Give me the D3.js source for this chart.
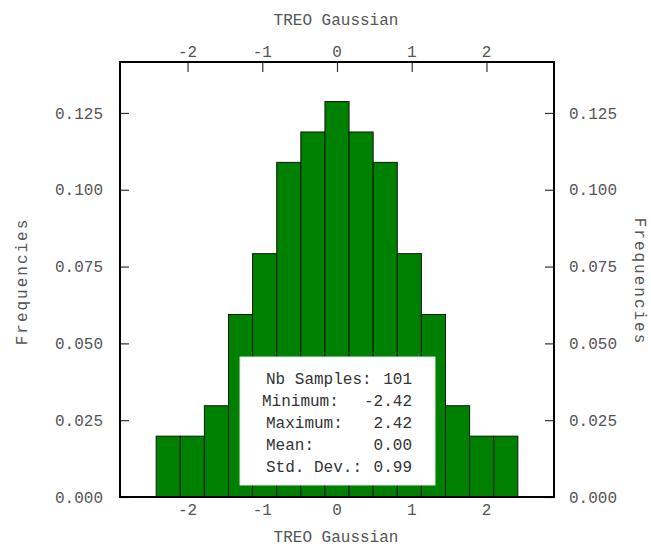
<!DOCTYPE html>
<html>
<head>
<meta charset="utf-8">
<script src="https://cdn.jsdelivr.net/npm/d3@7"></script>
<style>
  html, body { margin: 0; padding: 0; background: #fff; }
  svg { display: block; }
  text { font-family: "Liberation Mono", "DejaVu Sans Mono", monospace; }
</style>
</head>
<body>
<svg id="chart" width="651" height="548"></svg>
<script>
// Histogram of the TREO Gaussian variable
const variableName = "TREO Gaussian";
const yAxisName = "Frequencies";
const binMin = -2.42;
const binMax = 2.42;
const binCounts = [2, 2, 3, 6, 8, 11, 12, 13, 12, 11, 8, 6, 3, 2, 2];
const xTicks = [-2, -1, 0, 1, 2];
const yTicks = [0, 0.025, 0.05, 0.075, 0.1, 0.125];
const statLabels = ["Nb Samples:", "Minimum:", "Maximum:", "Mean:", "Std. Dev.:"];
const statValues = ["101", "-2.42", "2.42", "0.00", "0.99"];

const nSamples = d3.sum(binCounts);
const binWidth = (binMax - binMin) / binCounts.length;
const bins = binCounts.map((c, i) => ({
  x0: binMin + i * binWidth,
  x1: binMin + (i + 1) * binWidth,
  freq: c / nSamples
}));

const svg = d3.select("#chart");
const plot = { left: 120, right: 554, top: 62, bottom: 497 };

// 10% padding around the data range on x, 10% headroom on y
const pad = (binMax - binMin) * 0.1;
const x = d3.scaleLinear().domain([binMin - pad, binMax + pad]).range([plot.left, plot.right]);
const yMax = d3.max(bins, d => d.freq) * 1.1;
const y = d3.scaleLinear().domain([0, yMax]).range([plot.bottom, plot.top]);

const tickColor = "#555";
const fontSize = 16;

// inward ticks on all four sides
const axTop = d3.axisBottom(x).tickValues(xTicks).tickSize(10).tickFormat("");
const axBottom = d3.axisTop(x).tickValues(xTicks).tickSize(10).tickFormat("");
const axLeft = d3.axisRight(y).tickValues(yTicks).tickSize(9).tickFormat("");
const axRight = d3.axisLeft(y).tickValues(yTicks).tickSize(9).tickFormat("");

function styleAxis(g) {
  g.select(".domain").remove();
  g.selectAll(".tick line").attr("stroke", "#333").attr("stroke-width", 1.2);
}
svg.append("g").attr("transform", `translate(0,${plot.top})`).call(axTop).call(styleAxis);
svg.append("g").attr("transform", `translate(0,${plot.bottom})`).call(axBottom).call(styleAxis);
svg.append("g").attr("transform", `translate(${plot.left},0)`).call(axLeft).call(styleAxis);
svg.append("g").attr("transform", `translate(${plot.right},0)`).call(axRight).call(styleAxis);

// bars
svg.append("g").selectAll("rect").data(bins).join("rect")
  .attr("x", d => x(d.x0))
  .attr("y", d => y(d.freq))
  .attr("width", d => x(d.x1) - x(d.x0))
  .attr("height", d => y(0) - y(d.freq))
  .attr("fill", "#008000")
  .attr("stroke", "#0a1a0a")
  .attr("stroke-width", 1);

// frame
svg.append("rect")
  .attr("x", plot.left).attr("y", plot.top)
  .attr("width", plot.right - plot.left).attr("height", plot.bottom - plot.top)
  .attr("fill", "none").attr("stroke", "#000").attr("stroke-width", 2);

// tick labels
const fmtX = d3.format("d");
const fmtY = d3.format(".3f");
const dash = s => s.replace("\u2212", "-");
svg.append("g").selectAll("text").data(xTicks).join("text")
  .attr("x", d => x(d)).attr("y", plot.top - 5)
  .attr("text-anchor", "middle").attr("font-size", fontSize).attr("fill", tickColor)
  .text(d => dash(fmtX(d)));
svg.append("g").selectAll("text").data(xTicks).join("text")
  .attr("x", d => x(d)).attr("y", plot.bottom + 18)
  .attr("text-anchor", "middle").attr("font-size", fontSize).attr("fill", tickColor)
  .text(d => dash(fmtX(d)));
svg.append("g").selectAll("text").data(yTicks).join("text")
  .attr("x", plot.left - 17).attr("y", d => y(d)).attr("dy", "0.35em")
  .attr("text-anchor", "end").attr("font-size", fontSize).attr("fill", tickColor)
  .text(d => fmtY(d));
svg.append("g").selectAll("text").data(yTicks).join("text")
  .attr("x", plot.right + 15).attr("y", d => y(d)).attr("dy", "0.35em")
  .attr("text-anchor", "start").attr("font-size", fontSize).attr("fill", tickColor)
  .text(d => fmtY(d));

// axis titles
const midX = (plot.left + plot.right) / 2 - 1;
const midY = (plot.top + plot.bottom) / 2 + 2;
svg.append("text").attr("x", midX).attr("y", 25)
  .attr("text-anchor", "middle").attr("font-size", fontSize).attr("fill", tickColor)
  .text(variableName);
svg.append("text").attr("x", midX).attr("y", 542)
  .attr("text-anchor", "middle").attr("font-size", fontSize).attr("fill", tickColor)
  .text(variableName);
svg.append("text")
  .attr("transform", `translate(27,${midY}) rotate(-90)`)
  .attr("text-anchor", "middle").attr("font-size", fontSize).attr("fill", tickColor)
  .attr("letter-spacing", 2)
  .text(yAxisName);
svg.append("text")
  .attr("transform", `translate(635,${midY}) rotate(90)`)
  .attr("text-anchor", "middle").attr("font-size", fontSize).attr("fill", tickColor)
  .attr("letter-spacing", 2)
  .text(yAxisName);

// statistics box
const box = { x: 240, y: 357, w: 195, h: 128 };
svg.append("rect")
  .attr("x", box.x).attr("y", box.y).attr("width", box.w).attr("height", box.h)
  .attr("fill", "#fff").attr("stroke", "#e4e4e4").attr("stroke-width", 1);
const lineH = 22;
const stats = svg.append("g");
statLabels.forEach((lab, i) => {
  const ty = box.y + 27 + i * lineH;
  stats.append("text").attr("x", i === 1 ? 262 : 266).attr("y", ty)
    .attr("font-size", fontSize).attr("fill", "#333").text(lab);
  stats.append("text").attr("x", 412).attr("y", ty)
    .attr("text-anchor", "end").attr("font-size", fontSize).attr("fill", "#333").text(statValues[i]);
});
</script>
</body>
</html>
